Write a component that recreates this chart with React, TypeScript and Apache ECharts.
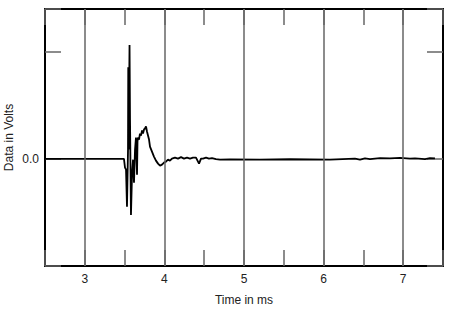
import React, { useEffect, useRef } from "react";
import * as echarts from "echarts";

// time in ms
const times: number[] = [
  2.5, 3.492, 3.505, 3.518, 3.53, 3.543, 3.546, 3.549, 3.555, 3.562, 3.568,
  3.58, 3.593, 3.606, 3.618, 3.631, 3.643, 3.656, 3.662, 3.668, 3.681, 3.693,
  3.706, 3.719, 3.731, 3.744, 3.756, 3.769, 3.781, 3.794, 3.807, 3.819, 3.844,
  3.869, 3.894, 3.92, 3.945, 3.97, 3.995, 4.02, 4.045, 4.07, 4.095, 4.133,
  4.171, 4.209, 4.246, 4.284, 4.322, 4.359, 4.397, 4.435, 4.46, 4.485, 4.523,
  4.56, 4.598, 4.648, 4.698, 4.824, 5.201, 5.578, 6.08, 6.394, 6.457, 6.52,
  6.583, 6.709, 6.834, 6.96, 7.085, 7.148, 7.274, 7.337, 7.399, 7.5,
];
// voltage (relative units)
const volts: number[] = [
  0, 0, -0.082, -0.1, -0.447, 0.087, 0.856, 0.087, 0.462, 1.063, 0.368,
  -0.523, -0.147, -0.007, -0.223, 0.087, 0.2, -0.147, 0.162, 0.2, 0.181,
  0.237, 0.218, 0.265, 0.237, 0.275, 0.284, 0.303, 0.256, 0.218, 0.181,
  0.115, 0.068, 0.022, -0.016, -0.044, -0.063, -0.053, -0.035, -0.025, -0.007,
  -0.016, 0.003, 0.012, 0.003, 0.017, 0.003, 0.012, 0.003, 0.012, 0.012,
  -0.044, 0.003, 0.003, 0.012, 0.003, 0.008, -0.002, -0.007, -0.005, -0.007,
  -0.003, -0.007, 0.003, -0.007, 0.005, -0.002, 0.007, 0.005, 0.009, 0.003,
  0.005, -0.002, 0.008, 0.005,
];
const gridTimes: number[] = [3, 4, 5, 6, 7];

export default function App() {
  const ref = useRef<HTMLDivElement>(null);
  useEffect(() => {
    document.body.style.margin = "0";
    if (!ref.current) return;
    const chart = echarts.init(ref.current, null, { renderer: "svg" });
    const font = "Arial, 'Liberation Sans', sans-serif";
    const xBase = {
      type: "value" as const,
      min: 2.5,
      max: 7.5,
      interval: 0.5,
      axisLine: { show: true, onZero: false, lineStyle: { color: "#000", width: 2 } },
      axisTick: { show: true, inside: true, length: 16, lineStyle: { color: "#666", width: 1.5 } },
      splitLine: { show: false },
    };
    const yBase = {
      type: "value" as const,
      min: -1,
      max: 1.4,
      interval: 1,
      axisLine: { show: true, onZero: false, lineStyle: { color: "#000", width: 2 } },
      axisTick: { show: true, inside: true, length: 16, lineStyle: { color: "#666", width: 1.5 } },
      splitLine: { show: false },
    };
    chart.setOption({
      animation: false,
      backgroundColor: "#fff",
      grid: { left: 45, right: 7, top: 9, bottom: 50, containLabel: false, outerBoundsMode: "none" },
      xAxis: [
        {
          ...xBase,
          position: "bottom",
          name: "Time in ms",
          nameLocation: "middle",
          nameGap: 28,
          nameMoveOverlap: false,
          nameTextStyle: { color: "#222", fontSize: 12, fontFamily: font },
          axisLabel: {
            color: "#222",
            fontSize: 12,
            fontFamily: font,
            margin: 7,
            formatter: (v: number) => (Math.abs(v - Math.round(v)) < 1e-6 ? String(Math.round(v)) : ""),
          },
        },
        { ...xBase, position: "top", axisLabel: { show: false } },
      ],
      yAxis: [
        {
          ...yBase,
          position: "left",
          name: "Data in Volts",
          nameLocation: "middle",
          nameGap: 30,
          nameMoveOverlap: false,
          nameTextStyle: { color: "#222", fontSize: 12, fontFamily: font },
          axisLabel: {
            color: "#222",
            fontSize: 12,
            fontFamily: font,
            margin: 6,
            formatter: (v: number) => (Math.abs(v) < 1e-9 ? "0.0" : ""),
          },
        },
        { ...yBase, position: "right", axisLabel: { show: false } },
      ],
      series: [
        {
          type: "line",
          data: [[2.5, 0]],
          showSymbol: false,
          lineStyle: { width: 0 },
          silent: true,
          z: 1,
          markLine: {
            silent: true,
            symbol: ["none", "none"],
            label: { show: false },
            lineStyle: { color: "#666", width: 1.5, type: "solid" },
            data: gridTimes.map((t) => ({ xAxis: t })),
          },
        },
        {
          type: "line",
          data: times.map((t, i) => [t, volts[i]]),
          showSymbol: false,
          lineStyle: { color: "#000", width: 1.8 },
          z: 3,
        },
      ],
    });
    return () => chart.dispose();
  }, []);
  return <div ref={ref} style={{ width: 450, height: 316 }} />;
}
